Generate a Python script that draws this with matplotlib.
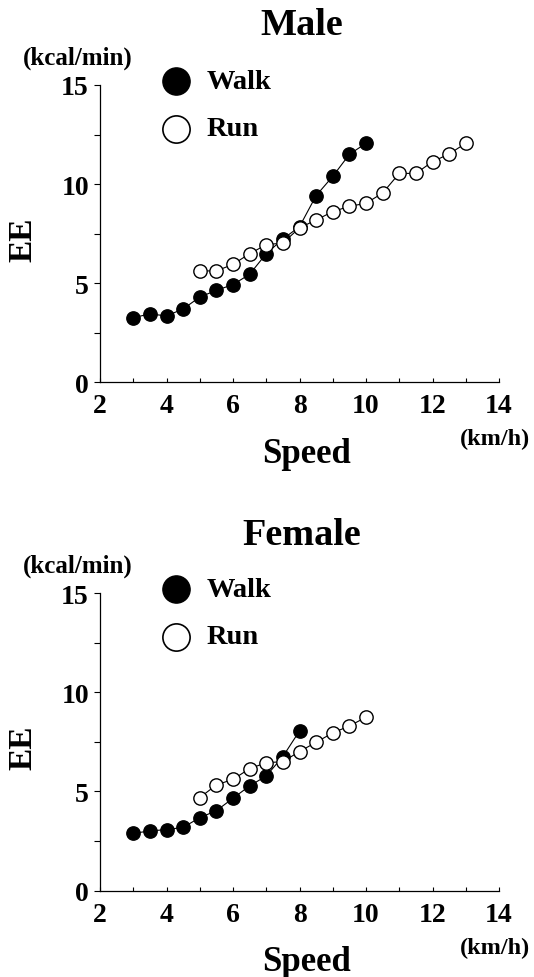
import matplotlib
matplotlib.use("Agg")
import matplotlib.pyplot as plt
from matplotlib.ticker import MultipleLocator

plt.rcParams["font.family"] = ["Liberation Serif", "DejaVu Serif"]
plt.rcParams["font.weight"] = "bold"

# -----------------------------
# Data
# -----------------------------
male_walk_speed = [3, 3.5, 4, 4.5, 5, 5.5, 6, 6.5, 7, 7.5, 8, 8.5, 9, 9.5, 10]
male_walk_ee = [3.26, 3.45, 3.35, 3.70, 4.30, 4.64, 4.93, 5.45, 6.49, 7.23, 7.85, 9.42, 10.39, 11.50, 12.06]
male_run_speed = [5, 5.5, 6, 6.5, 7, 7.5, 8, 8.5, 9, 9.5, 10, 10.5, 11, 11.5, 12, 12.5, 13]
male_run_ee = [5.62, 5.62, 5.95, 6.49, 6.94, 7.03, 7.79, 8.19, 8.61, 8.88, 9.03, 9.55, 10.54, 10.54, 11.13, 11.52, 12.06]

female_walk_speed = [3, 3.5, 4, 4.5, 5, 5.5, 6, 6.5, 7, 7.5, 8]
female_walk_ee = [2.89, 3.01, 3.08, 3.19, 3.68, 4.03, 4.66, 5.28, 5.78, 6.76, 8.05]
female_run_speed = [5, 5.5, 6, 6.5, 7, 7.5, 8, 8.5, 9, 9.5, 10]
female_run_ee = [4.69, 5.33, 5.61, 6.15, 6.45, 6.50, 7.01, 7.48, 7.95, 8.30, 8.74]

panels = [
    ("Male", male_walk_speed, male_walk_ee, male_run_speed, male_run_ee),
    ("Female", female_walk_speed, female_walk_ee, female_run_speed, female_run_ee),
]

W, H = 534, 978
fig = plt.figure(figsize=(W / 100, H / 100), dpi=100)

# axes boxes in pixels: left, top, width, height
boxes = [(100, 86, 399, 297.3), (100, 594, 399, 297.7)]
title_y = [1.205, 1.195]


def draw_panel(ax, title, ty, ws, we, rs, re):
    ax.plot(ws, we, color="black", lw=0.8, marker="o", ms=9.6,
            mfc="black", mec="black", zorder=3)
    ax.plot(rs, re, color="black", lw=0.8, marker="o", ms=9.6,
            mfc="white", mec="black", mew=1.0, zorder=4)

    ax.set_xlim(2, 14)
    ax.set_ylim(0, 15)
    ax.xaxis.set_major_locator(MultipleLocator(2))
    ax.xaxis.set_minor_locator(MultipleLocator(1))
    ax.yaxis.set_major_locator(MultipleLocator(5))
    ax.yaxis.set_minor_locator(MultipleLocator(2.5))
    for s in ("top", "right"):
        ax.spines[s].set_visible(False)
    for s in ("left", "bottom"):
        ax.spines[s].set_linewidth(0.9)
    ax.tick_params(axis="x", which="both", direction="in", length=3, width=0.8,
                   labelsize=20, pad=8)
    ax.tick_params(axis="y", which="both", direction="out", length=4, width=0.8,
                   labelsize=20, pad=4)
    for lab in ax.get_xticklabels() + ax.get_yticklabels():
        lab.set_fontweight("bold")

    # legend drawn by hand
    ax.plot([4.29], [15.2], "o", ms=19.6, mfc="black", mec="black", clip_on=False)
    ax.plot([4.29], [12.8], "o", ms=19.6, mfc="white", mec="black", mew=1.2, clip_on=False)
    ax.text(5.2, 15.2, "Walk", fontsize=20.5, fontweight="bold", va="center", ha="left")
    ax.text(5.2, 12.8, "Run", fontsize=20.5, fontweight="bold", va="center", ha="left")

    ax.text(0.506, ty, title, transform=ax.transAxes, fontsize=27.5,
            fontweight="bold", ha="center", va="center")
    ax.text(-0.056, 1.094, "(kcal/min)", transform=ax.transAxes, fontsize=18,
            fontweight="bold", ha="center", va="center")
    ax.text(-0.194, 0.482, "EE", transform=ax.transAxes, fontsize=24,
            fontweight="bold", ha="center", va="center", rotation=90)
    ax.text(0.518, -0.238, "Speed", transform=ax.transAxes, fontsize=25,
            fontweight="bold", ha="center", va="center")
    ax.text(0.99, -0.19, "(km/h)", transform=ax.transAxes, fontsize=17.5,
            fontweight="bold", ha="center", va="center")


for (title, ws, we, rs, re), (l, t, w, h), ty in zip(panels, boxes, title_y):
    ax = fig.add_axes([l / W, (H - t - h) / H, w / W, h / H])
    draw_panel(ax, title, ty, ws, we, rs, re)

fig.savefig("out.png", dpi=100)
